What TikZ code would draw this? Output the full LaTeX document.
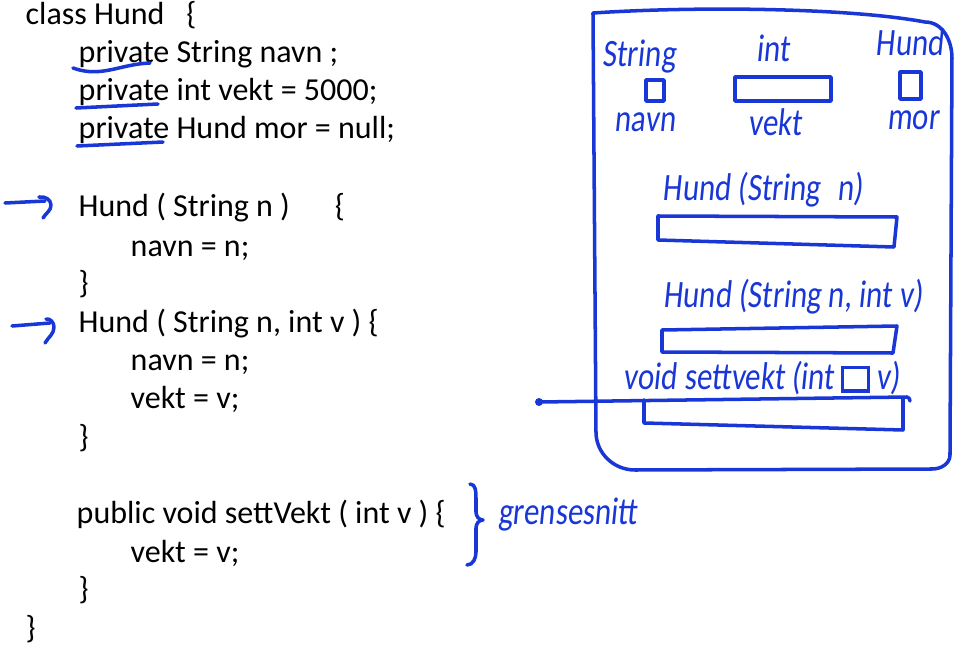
\documentclass[tikz,border=0pt]{standalone}
\usepackage{fontspec}
\setmainfont{Carlito}
\newfontfamily\handfont[FakeStretch=0.8,FakeSlant=0.1]{Carlito}
\definecolor{ink}{RGB}{25,55,215}
\tikzset{
  code/.style={anchor=base west, inner sep=0pt, font=\fontsize{9.1}{11}\selectfont},
  hand/.style={draw=ink, line width=1pt, line cap=round, line join=round},
  scrawl/.style={text=ink, inner sep=0pt, font=\handfont\fontsize{11}{13}\selectfont},
}
\begin{document}
\begin{tikzpicture}[x=0.01cm,y=-0.01cm]
    \useasboundingbox (0,0) rectangle (959,645);

    \node[code] (cls) at (25,24) {class Hund\hspace{0.22cm}\{};
    \node[code] (f1) at (78,62) {private String navn ;};
    \node[code] (f2) at (78,100) {private int vekt = 5000;};
    \node[code] (f3) at (78,138) {private Hund mor = null;};
    \node[code] (k1) at (78,216) {Hund ( String n )\hspace{0.45cm}\{};
    \node[code] (k1a) at (130,256) {navn = n;};
    \node[code] (k1e) at (78,293) {\}};
    \node[code] (k2) at (78,332) {Hund ( String n, int v ) \{};
    \node[code] (k2a) at (130,370) {navn = n;};
    \node[code] (k2b) at (130,408) {vekt = v;};
    \node[code] (k2e) at (78,447) {\}};
    \node[code] (m1) at (76,524) {public void settVekt ( int v ) \{};
    \node[code] (m1a) at (130,562) {vekt = v;};
    \node[code] (m1e) at (78,600) {\}};
    \node[code] (clse) at (25,638) {\}};

    % underlines and arrows
    \draw[hand] (73,68) to[out=-20,in=182] (150,63);
    \draw[hand] (76,108) -- (158,104);
    \draw[hand] (77,146) -- (163,142);
    \draw[hand] (5,203) -- (45,201);
    \draw[hand] (39,197) to[out=10,in=90] (51,205) to[out=-90,in=60] (43,218);
    \draw[hand] (12,326) -- (50,323);
    \draw[hand] (46,319) to[out=10,in=90] (54,327) to[out=-90,in=60] (45,343);

    % object
    \draw[hand] (593,13) .. controls (700,6) and (850,8) .. (925,22)
        to[out=0,in=90] (952,58) -- (950,455) to[out=-90,in=0] (932,469)
        -- (635,470) to[out=180,in=-90] (596,432) -- cycle;

    \node[scrawl] (tnavn) at (639,57) {String};
    \node[scrawl] (navn) at (645,122) {navn};
    \node[scrawl] (tvekt) at (773,48) {int};
    \node[scrawl] (vekt) at (775,122) {vekt};
    \node[scrawl] (tmor) at (910,42) {Hund};
    \node[scrawl] (mor) at (913,120) {mor};
    \draw[hand] (646,80) rectangle (664,101);
    \draw[hand] (735,77) rectangle (831,101);
    \draw[hand] (900,72) rectangle (921,99);

    \node[scrawl] (h1) at (763,190) {Hund (String\hspace{0.1cm} n)};
    \draw[hand] (658,216) -- (897,217) -- (894,247) -- (658,240) -- cycle;
    \node[scrawl] (h2) at (793,297) {Hund (String n, int v)};
    \draw[hand] (662,330) -- (897,326) -- (893,353) -- (662,352) -- cycle;
    \node[scrawl] (h3) at (762,378) {void settvekt (int
        {\fboxsep=0pt\fboxrule=0.9pt\fcolorbox{ink}{white}{\rule{0pt}{1.1ex}\hspace{1.2ex}}} v)};
    \draw[hand] (644,400) -- (644,423) -- (903,430) -- (903,398);

    \coordinate (dot) at (539,402);
    \coordinate (wire) at (907,397);
    \fill[ink] (dot) circle (4);
    \draw[hand] (dot) -- (wire) to[out=0,in=90] (910,401);

    % grensesnitt
    \draw[hand] (470,484) to[out=0,in=90] (476,498) -- (476,512)
        to[out=-90,in=180] (483,520) to[out=180,in=90] (476,528)
        -- (476,552) to[out=-90,in=0] (467,565);
    \node[scrawl] (gr) at (568,515) {grensesnitt};
\end{tikzpicture}
\end{document}
